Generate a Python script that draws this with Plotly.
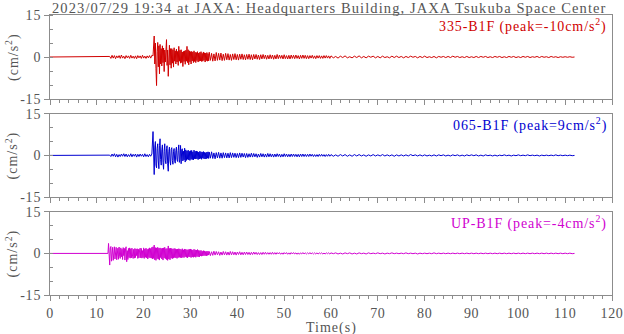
import numpy as np
import plotly.graph_objects as go

# ---------------- data ----------------
title_text = "2023/07/29 19:34 at JAXA: Headquarters Building, JAXA Tsukuba Space Center"
channels = ["335-B1F", "065-B1F", "UP-B1F"]
peaks = ["-10", "9", "-4"]
colors = ["#d00000", "#0000d0", "#d000d0"]
y_unit = "(cm/s<sup>2</sup>)"
x_label = "Time(s)"

x_ticks = [0, 10, 20, 30, 40, 50, 60, 70, 80, 90, 100, 110, 120]
y_ticks = [-15, 0, 15]
y_tick_labels = ["-15", "0", "15"]

# each record: segments of (start time s, sample step s) with acceleration values (cm/s^2)
seg_335 = [(12.5, 0.25), (22.0, 0.125), (34.0, 0.25), (60.0, 0.5)]
a335_p = [
    0, 0.2, -0.5, 0.6, -0.4, 0.5, -0.6, 0.4, -0.3, 0.5, -0.5, 0.7,
    -0.4, 0.3, -0.6, 0.5, -0.3, 0.4, -0.5, 0.6, -0.4, 0.3, -0.5, 0.4,
    -0.6, 0.5, -0.3, 0.4, -0.5, 0.6, -0.4, 0.3, -0.5, 0.4, -0.3, 0.5,
    -0.4, 0.6,
]
a335_s = [
    0.4, 3.5, 7.5, -2.5, 5.0, -4.0, -10.2, 2.0,
    5.2, -3.5, 4.0, -6.0, 4.5, -2.5, 3.0, -3.2,
    4.0, -2.0, 3.2, -5.2, 2.5, -1.8, 3.5, 6.2,
    -3.0, 2.5, -6.9, 1.5, 4.2, -2.8, 3.0, -4.0,
    3.0, -2.2, 2.6, -3.6, 3.3, -1.5, 2.2, -2.5,
    2.8, -1.8, 2.0, -3.0, 3.8, -1.5, 2.4, -2.2,
    2.6, -2.0, 1.8, -3.4, 2.0, -1.6, 2.2, -2.6,
    2.4, -1.5, 3.8, -2.0, 2.6, -2.8, 2.2, -1.7,
    1.9, -2.5, 2.0, -1.4, 1.8, -2.0, 2.2, -1.6,
    1.7, -2.0, 1.6, -1.3, 1.9, -1.8, 1.4, -1.5,
    1.7, -1.4, 1.9, -1.6, 1.3, -1.5, 1.8, -1.2,
    1.5, -1.8, 1.4, -1.3, 1.6, -1.5, 1.2, -1.4,
]
a335_m = [
    1.7, -1.2, 1.3, -1.5, 1.1, -1.4, 1.6, -1.2, 1.3, -1.1, 1.4, -1.3,
    1.0, -1.2, 1.3, -1.0, 1.2, -1.1, 0.9, -1.2, 1.1, -0.9, 1.2, -1.0,
    0.9, -1.1, 1.0, -0.8, 1.1, -0.9, 0.8, -1.0, 0.9, -0.8, 1.0, -0.9,
    0.8, -1.0, 0.9, -0.7, 0.9, -0.8, 0.7, -0.9, 0.8, -0.7, 0.9, -0.6,
    0.7, -0.8, 0.6, -0.7, 0.8, -0.6, 0.7, -0.8, 0.6, -0.7, 0.9, -0.6,
    0.7, -0.5, 0.6, -0.7, 0.8, -0.6, 0.5, -0.7, 0.6, -0.7, 0.7, -0.5,
    0.6, -0.6, 0.7, -0.5, 0.5, -0.7, 0.6, -0.5, 0.7, -0.5, 0.6, -0.6,
    0.5, -0.6, 0.5, -0.4, 0.6, -0.5, 0.4, -0.6, 0.5, -0.4, 0.5, -0.5,
    0.4, -0.5, 0.5, -0.4, 0.5, -0.4, 0.4, -0.5,
]
a335_t = [
    0.4, -0.3, 0.2, -0.4, 0.3, -0.2, 0.4, -0.3, 0.1, -0.3,
    0.3, -0.2, 0.4, -0.3, 0.2, -0.3, 0.3, -0.1, 0.3, -0.3,
    0.2, -0.3, 0.3, -0.2, 0.1, -0.3, 0.3, -0.2, 0.3, -0.2,
    0.2, -0.3, 0.2, -0.2, 0.3, -0.1, 0.2, -0.3, 0.2, -0.2,
    0.3, -0.2, 0.1, -0.2, 0.2, -0.3, 0.2, -0.1, 0.2, -0.2,
    0.2, -0.2, 0.3, -0.1, 0.2, -0.2, 0.1, -0.2, 0.2, -0.2,
    0.1, -0.2, 0.2, -0.2, 0.2, -0.1, 0.2, -0.2, 0.1, -0.2,
    0.2, -0.1, 0.2, -0.2, 0.1, -0.2, 0.2, -0.1, 0.2, -0.2,
    0.1, -0.2, 0.2, -0.1, 0.2, -0.2, 0.1, -0.1, 0.2, -0.2,
    0.2, -0.1, 0.1, -0.2, 0.2, -0.1, 0.1, -0.2, 0.1, -0.1,
    0.1, -0.1, 0.1, -0.1, 0.0,
]

seg_065 = [(12.5, 0.25), (22.0, 0.125), (34.0, 0.25), (60.0, 0.5)]
a065_p = [
    0, 0.1, -0.4, 0.5, -0.3, 0.6, -0.5, 0.4, -0.6, 0.3, -0.4, 0.5,
    -0.3, 0.6, -0.4, 0.5, -0.5, 0.3, -0.4, 0.6, -0.5, 0.4, -0.3, 0.5,
    -0.6, 0.4, -0.4, 0.5, -0.3, 0.4, -0.5, 0.6, -0.4, 0.3, -0.5, 0.4,
    -0.3, 0.5,
]
a065_s = [
    8.6, -2.0, -6.9, 3.0, 5.0, -3.5, -4.5, 2.5,
    4.2, -2.0, -4.8, 3.5, 6.0, -1.5, -3.5, 2.0,
    3.8, -2.5, -5.0, 1.5, 4.2, -2.0, -3.0, 2.5,
    3.5, -3.0, -5.7, 1.5, 3.0, -2.0, -3.5, 2.2,
    2.8, -1.8, -3.2, 1.5, 2.5, -2.0, -2.8, 1.8,
    3.0, -1.5, -2.2, 1.8, 3.8, -2.5, -1.5, 3.6,
    -3.0, 2.0, 2.4, -2.0, 1.5, -1.6, 2.6, -2.4,
    2.0, -1.8, 1.6, -1.4, 1.9, -1.6, 1.5, -1.8,
    1.7, -1.4, 1.8, -1.5, 1.3, -1.6, 1.9, -1.2,
    1.5, -1.3, 1.6, -1.2, 1.4, -1.5, 1.2, -1.3,
    1.5, -1.1, 1.3, -1.4, 1.2, -1.0, 1.4, -1.2,
    1.1, -1.3, 1.0, -1.2, 1.2, -1.0, 1.3, -1.1,
]
a065_m = [
    1.2, -1.0, 1.3, -1.1, 0.9, -1.2, 1.0, -0.9, 1.1, -1.0, 0.9, -1.0,
    1.0, -0.8, 0.9, -0.9, 0.8, -0.9, 1.0, -0.8, 0.9, -0.7, 0.8, -0.8,
    0.7, -0.8, 0.9, -0.7, 0.8, -0.6, 0.7, -0.8, 0.7, -0.7, 0.6, -0.6,
    0.8, -0.6, 0.7, -0.5, 0.6, -0.7, 0.5, -0.6, 0.7, -0.5, 0.6, -0.6,
    0.5, -0.6, 0.7, -0.5, 0.6, -0.5, 0.5, -0.6, 0.5, -0.5, 0.6, -0.4,
    0.5, -0.6, 0.4, -0.5, 0.6, -0.4, 0.5, -0.5, 0.4, -0.5, 0.5, -0.4,
    0.5, -0.4, 0.4, -0.5, 0.4, -0.5, 0.5, -0.4, 0.5, -0.4, 0.4, -0.4,
    0.4, -0.4, 0.5, -0.3, 0.4, -0.4, 0.3, -0.4, 0.3, -0.4, 0.4, -0.3,
    0.4, -0.3, 0.3, -0.4, 0.3, -0.3, 0.4, -0.3,
]
a065_t = [
    0.3, -0.3, 0.2, -0.3, 0.3, -0.2, 0.3, -0.3, 0.2, -0.3,
    0.3, -0.2, 0.3, -0.2, 0.2, -0.3, 0.2, -0.2, 0.3, -0.2,
    0.2, -0.2, 0.3, -0.2, 0.2, -0.2, 0.2, -0.3, 0.2, -0.2,
    0.2, -0.2, 0.2, -0.2, 0.3, -0.1, 0.2, -0.2, 0.2, -0.2,
    0.2, -0.2, 0.1, -0.2, 0.2, -0.2, 0.2, -0.1, 0.2, -0.2,
    0.1, -0.2, 0.2, -0.1, 0.2, -0.2, 0.1, -0.2, 0.2, -0.1,
    0.2, -0.1, 0.2, -0.2, 0.1, -0.2, 0.2, -0.1, 0.1, -0.2,
    0.1, -0.2, 0.1, -0.1, 0.2, -0.1, 0.1, -0.2, 0.1, -0.1,
    0.2, -0.1, 0.1, -0.1, 0.2, -0.1, 0.1, -0.1, 0.1, -0.2,
    0.1, -0.1, 0.1, -0.1, 0.1, -0.1, 0.2, -0.1, 0.1, -0.1,
    0.1, -0.1, 0.1, -0.1, 0.0,
]

seg_up = [(12.25, 0.125), (22.0, 0.125), (34.0, 0.25), (60.0, 0.5)]
aup_p = [
    0, 0, 3.6, -1.5, -4.2, 2.0, 2.5, -2.8,
    1.5, 2.2, -2.5, -1.0, 2.4, -2.0, 1.2, 2.2,
    -2.3, 0.5, 1.9, -2.1, 2.3, -1.0, -1.8, 2.0,
    -1.2, 1.5, -2.2, 2.1, -0.8, 1.8, -2.4, 1.6,
    2.4, -3.0, 1.0, -2.2, 1.8, -1.5, 2.0, -1.7,
    1.7, -1.6, 1.9, -1.0, -1.8, 1.5, -1.7, 1.8,
    -1.5, 1.6, -0.8, 1.7, -1.8, 1.5, -1.6, 1.2,
    1.9, -1.6, 1.8, -1.7, 1.0, -1.5, 2.0, -1.8,
    1.6, -1.4, 1.9, -1.6, 1.5, -2.0, 1.7, -1.5,
    2.0, -1.6, 1.8, -1.7, 2.2, -2.0,
]
aup_s = [
    2.4, -1.8, 3.0, -2.3, 2.1, -2.5, 2.0, -1.9,
    2.2, -2.1, 1.9, -2.4, 2.0, -1.5, 1.8, -2.0,
    1.9, -2.4, 2.0, -1.6, 2.2, -1.9, 1.7, -2.2,
    1.8, -2.5, 2.7, -2.0, 1.8, -2.3, 1.9, -1.7,
    1.8, -1.9, 1.6, -1.7, 1.8, -1.5, 1.7, -1.6,
    1.5, -1.8, 1.6, -1.5, 1.7, -1.4, 1.6, -1.5,
    1.4, -1.6, 1.7, -1.4, 1.3, -1.5, 1.6, -1.2,
    1.5, -1.4, 1.3, -1.6, 1.4, -1.2, 1.5, -1.3,
    1.6, -1.5, 1.4, -1.3, 1.2, -1.4, 1.5, -1.2,
    1.3, -1.4, 1.2, -1.1, 1.4, -1.2, 1.1, -1.3,
    1.0, -0.9, 1.1, -1.0, 0.8, -0.9, 1.0, -0.8,
    0.9, -0.8, 0.7, -0.9, 0.8, -0.7, 0.8, -0.6,
]
aup_m = [
    0.7, -0.8, 0.6, -0.7, 0.8, -0.6, 0.7, -0.5, 0.6, -0.7, 0.5, -0.6,
    0.7, -0.5, 0.6, -0.6, 0.5, -0.6, 0.7, -0.5, 0.6, -0.5, 0.5, -0.6,
    0.5, -0.4, 0.6, -0.5, 0.4, -0.5, 0.5, -0.4, 0.5, -0.4, 0.4, -0.5,
    0.4, -0.4, 0.5, -0.3, 0.4, -0.4, 0.3, -0.4, 0.3, -0.4, 0.4, -0.3,
    0.4, -0.3, 0.3, -0.3, 0.3, -0.3, 0.4, -0.3, 0.3, -0.3, 0.3, -0.2,
    0.3, -0.3, 0.2, -0.3, 0.3, -0.2, 0.3, -0.3, 0.2, -0.3, 0.3, -0.2,
    0.3, -0.2, 0.2, -0.3, 0.2, -0.3, 0.2, -0.2, 0.3, -0.2, 0.2, -0.2,
    0.2, -0.2, 0.3, -0.2, 0.2, -0.2, 0.2, -0.2, 0.2, -0.2, 0.2, -0.1,
    0.2, -0.2, 0.1, -0.2, 0.2, -0.1, 0.2, -0.2,
]
aup_t = [
    0.2, -0.1, 0.2, -0.2, 0.1, -0.2, 0.2, -0.1, 0.2, -0.2,
    0.1, -0.2, 0.2, -0.1, 0.1, -0.2, 0.2, -0.1, 0.1, -0.1,
    0.2, -0.1, 0.1, -0.2, 0.1, -0.1, 0.2, -0.1, 0.1, -0.1,
    0.1, -0.1, 0.2, -0.1, 0.1, -0.1, 0.1, -0.2, 0.1, -0.1,
    0.1, -0.1, 0.1, -0.1, 0.2, -0.1, 0.1, -0.1, 0.1, -0.1,
    0.1, -0.1, 0.1, -0.1, 0.1, -0.1, 0.1, -0.1, 0.1, -0.1,
    0.1, -0.1, 0.1, -0.1, 0.1, -0.1, 0.1, -0.1, 0.1, -0.1,
    0.1, -0.1, 0.1, -0.1, 0.1, -0.1, 0.1, -0.1, 0.1, -0.1,
    0.1, -0.1, 0.1, -0.1, 0.1, -0.1, 0.1, -0.1, 0.1, -0.1,
    0.1, -0.1, 0.1, -0.1, 0.1, -0.1, 0.1, -0.1, 0.1, -0.1,
    0.1, -0.1, 0.1, -0.1, 0.0,
]

records = [
    (seg_335, [a335_p, a335_s, a335_m, a335_t]),
    (seg_065, [a065_p, a065_s, a065_m, a065_t]),
    (seg_up, [aup_p, aup_s, aup_m, aup_t]),
]

# ---------------- style ----------------
FONT = "Liberation Serif"
TXT = "#555555"
AX = "#8c8c8c"
FS = 14


def spaced(s, px):
    return f'<span style="letter-spacing:{px}px">{s}</span>'


# panel vertical domains (top to bottom)
domains = [[0.70, 1.0], [0.35, 0.647], [0.0, 0.297]]

fig = go.Figure()
for k, (segs, vals) in enumerate(records):
    xs = [np.array([0.0])]
    ys = [np.array([0.0])]
    for (t0, dt), v in zip(segs, vals):
        v = np.asarray(v, dtype=float)
        xs.append(t0 + dt * np.arange(len(v)))
        ys.append(v)
    x = np.concatenate(xs)
    y = np.concatenate(ys)
    sfx = "" if k == 0 else str(k + 1)
    fig.add_trace(go.Scatter(x=x, y=y, mode="lines",
                             line=dict(color=colors[k], width=1),
                             xaxis="x" + sfx, yaxis="y" + sfx,
                             hoverinfo="skip"))

layout = dict(
    width=624, height=334,
    margin=dict(l=50, r=12, t=15, b=39, autoexpand=False),
    paper_bgcolor="white", plot_bgcolor="white",
    showlegend=False,
    font=dict(family=FONT, size=FS, color=TXT),
)
for k in range(3):
    sfx = "" if k == 0 else str(k + 1)
    layout["xaxis" + sfx] = dict(
        domain=[0, 1], anchor="y" + sfx, range=[0, 120],
        tickmode="array", tickvals=x_ticks,
        ticktext=[spaced(str(v), 0.6) for v in x_ticks],
        showticklabels=(k == 2),
        ticks="outside", ticklen=5, tickwidth=1, tickcolor=AX,
        minor=dict(tickmode="linear", tick0=0, dtick=2, ticks="outside",
                   ticklen=3, tickwidth=1, tickcolor=AX),
        showline=True, linecolor=AX, linewidth=1, mirror=True,
        showgrid=False, zeroline=False, fixedrange=True, automargin=False,
        tickfont=dict(family=FONT, size=FS, color=TXT),
    )
    layout["yaxis" + sfx] = dict(
        domain=domains[k], anchor="x" + sfx, range=[-15, 15],
        tickmode="array", tickvals=y_ticks,
        ticktext=[spaced(v, 0.8) for v in y_tick_labels],
        ticks="outside", ticklen=5, tickwidth=1, tickcolor=AX,
        minor=dict(tickmode="linear", tick0=0, dtick=5, ticks="inside",
                   ticklen=3, tickwidth=1, tickcolor=AX),
        showline=True, linecolor=AX, linewidth=1, mirror=True,
        showgrid=False, zeroline=False, fixedrange=True, automargin=False,
        tickfont=dict(family=FONT, size=FS, color=TXT),
    )
fig.update_layout(**layout)

ann = []
ann.append(dict(text=spaced(title_text, 1.1),
                xref="paper", yref="paper",
                x=0, y=1, xanchor="left", yanchor="bottom", yshift=-3,
                showarrow=False, font=dict(family=FONT, size=14.5, color=TXT)))
for k in range(3):
    ann.append(dict(text=spaced(f"{channels[k]} (peak={peaks[k]}cm/s<sup>2</sup>)", 0.9),
                    xref="paper", yref="paper", x=1, y=domains[k][1],
                    xanchor="right", yanchor="top", xshift=-3, yshift=1,
                    showarrow=False, font=dict(family=FONT, size=FS, color=colors[k])))
    ann.append(dict(text=spaced(y_unit, 1.0), xref="paper", yref="paper",
                    x=0, y=(domains[k][0] + domains[k][1]) / 2,
                    xanchor="center", yanchor="middle", xshift=-38,
                    textangle=-90, showarrow=False,
                    font=dict(family=FONT, size=FS, color=TXT)))
ann.append(dict(text=spaced(x_label, 1.0),
                xref="paper", yref="paper",
                x=0.5, y=0, xanchor="center", yanchor="top", yshift=-23,
                showarrow=False, font=dict(family=FONT, size=FS, color=TXT)))
fig.update_layout(annotations=ann)

fig.write_html("out.html")
